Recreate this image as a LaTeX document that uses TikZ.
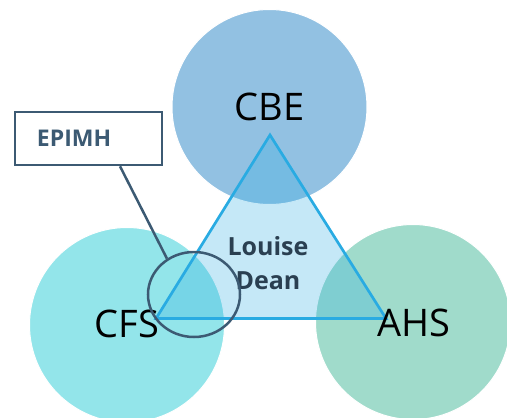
\documentclass[tikz,border=0pt]{standalone}
\usepackage{fontspec}
\setmainfont{Open Sans}
\usetikzlibrary{shapes.geometric}
\definecolor{cbeblue}{HTML}{92C1E2}
\definecolor{cfscyan}{HTML}{93E5EA}
\definecolor{ahsmint}{HTML}{A0DBCB}
\definecolor{triblue}{HTML}{29ABE2}
\definecolor{slate}{HTML}{3C5A73}
\tikzset{
  unit/.style={circle,draw=white,line width=1pt,minimum size=195pt,inner sep=0pt},
  unitname/.style={font=\fontsize{38}{40}\selectfont,text=black},
}
\begin{document}
\begin{tikzpicture}[x=1pt,y=-1pt]
 \useasboundingbox (0,0) rectangle (507,418);
 % the three units
  \draw (269.5,107) node[unit,fill=cbeblue] (CBE) {};
  \draw (127,325) node[unit,fill=cfscyan] (CFS) {};
  \draw (413,322) node[unit,fill=ahsmint] (AHS) {};
 % triangle joining them
  \coordinate (top) at (270,135);
  \coordinate (left) at (156,318.5);
  \coordinate (right) at (386,318.5);
  \path[draw=triblue,line width=2.7pt,fill=triblue,fill opacity=0.27,line join=miter]
     (top) -- (right) -- (left) -- cycle;
  \draw (CBE.center) node[unitname] {CBE};
  \draw (127,324) node[unitname] (CFSname) {CFS};
  \draw (414,323) node[unitname] (AHSname) {AHS};
  \draw (268,263) node[align=center,text=slate!70!black,font=\bfseries\fontsize{25}{34}\selectfont] (centre) {Louise\\Dean};
 % EPIMH callout
  \draw (194,294.5) node[ellipse,draw=slate,line width=2.5pt,minimum width=92pt,minimum height=85pt] (ring) {};
  \draw (88.5,138.5) node[draw=slate,line width=2.5pt,fill=white,inner xsep=22pt,text width=103pt,align=left,minimum height=53pt,text=slate,font=\bfseries\fontsize{23}{24}\selectfont] (EPIMH) {EPIMH};
     \path[-,draw=slate,line width=2.5pt] ([xshift=31.5pt]EPIMH.south) edge (ring.127);
\end{tikzpicture}
\end{document}
